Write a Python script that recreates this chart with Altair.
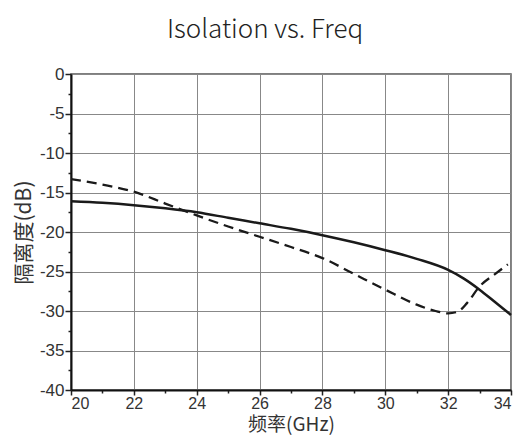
import altair as alt
import pandas as pd

freq_solid = [20, 21, 22, 23, 24, 25, 26, 27, 28, 29, 30, 31, 32, 32.5, 33, 33.5, 34]
iso_solid = [-16.1, -16.3, -16.6, -17.0, -17.5, -18.2, -18.9, -19.6, -20.4, -21.3, -22.3, -23.4, -24.8, -25.9, -27.3, -28.9, -30.5]

freq_dash = [20, 21, 22, 23, 24, 25, 26, 27, 28, 29, 30, 31, 31.6, 32, 32.3, 32.6, 33, 33.5, 33.9]
iso_dash = [-13.3, -14.0, -14.9, -16.4, -17.9, -19.3, -20.6, -21.9, -23.3, -25.3, -27.3, -29.2, -30.0, -30.3, -30.1, -29.0, -26.9, -25.3, -24.1]

x_ticks = [20, 21, 22, 23, 24, 25, 26, 27, 28, 29, 30, 31, 32, 33, 34]
y_ticks = [0, -2.5, -5, -7.5, -10, -12.5, -15, -17.5, -20, -22.5, -25, -27.5, -30, -32.5, -35, -37.5, -40]

df_solid = pd.DataFrame({"f": freq_solid, "v": iso_solid})
df_dash = pd.DataFrame({"f": freq_dash, "v": iso_dash})

xs = alt.Scale(domain=[20, 34], nice=False, zero=False)
ys = alt.Scale(domain=[-40, 0], nice=False, zero=False)

lab_font = "Liberation Sans"
x_major = "abs(datum.value) % 2 < 0.01"
y_major = "abs(datum.value) % 5 < 0.01"

x_axis = alt.Axis(values=x_ticks, tickCount=100, format="d", title="频率(GHz)", titleFont="Noto Sans CJK SC",
                  titleFontSize=19, titleFontWeight="normal", titleColor="#333",
                  labelFont=lab_font, labelFontSize=16, labelColor="#333", labelPadding=0,
                  labelOverlap=False,
                  labelExpr=f"{x_major} ? datum.label : ''",
                  tickSize={"condition": {"test": x_major, "value": 5}, "value": 3},
                  tickColor="#222", tickWidth=1.5,
                  gridOpacity={"condition": {"test": x_major, "value": 1}, "value": 0},
                  domainColor="#111", domainWidth=2, grid=True, gridColor="#888",
                  gridWidth=1, titlePadding=4)
y_axis = alt.Axis(values=y_ticks, tickCount=100, format="d", title="隔离度(dB)", titleFont="Noto Sans CJK SC",
                  titleFontSize=21, titleFontWeight="normal", titleColor="#333",
                  labelFont=lab_font, labelFontSize=17, labelColor="#333", labelPadding=1,
                  labelOverlap=False,
                  labelExpr=f"{y_major} ? replace(datum.label, '\u2212', '-') : ''",
                  tickSize={"condition": {"test": y_major, "value": 6}, "value": 3},
                  tickColor="#222", tickWidth=1.5,
                  gridOpacity={"condition": {"test": y_major, "value": 1}, "value": 0},
                  domainColor="#111", domainWidth=2, grid=True, gridColor="#888",
                  gridWidth=1, titlePadding=5)

solid = alt.Chart(df_solid).mark_line(color="#1a1a1a", strokeWidth=2.5, interpolate="monotone").encode(
    x=alt.X("f:Q", scale=xs, axis=x_axis),
    y=alt.Y("v:Q", scale=ys, axis=y_axis),
)

dash = alt.Chart(df_dash).mark_line(color="#1a1a1a", strokeWidth=2.3, strokeDash=[10, 6], interpolate="monotone").encode(
    x=alt.X("f:Q", scale=xs),
    y=alt.Y("v:Q", scale=ys),
)

chart = alt.layer(solid, dash).properties(
    width=440, height=316,
    title=alt.TitleParams("Isolation vs. Freq", font="Noto Sans CJK SC", fontSize=26,
                          fontWeight=300, color="#222", offset=22, anchor="middle", dx=-26),
    autosize=alt.AutoSizeParams(type="none"),
    padding={"left": 63, "top": 66, "right": 7, "bottom": 45},
).configure_view(stroke="#555", strokeWidth=1.5)

chart.save("out.html", embed_options={"renderer": "svg", "actions": False})
